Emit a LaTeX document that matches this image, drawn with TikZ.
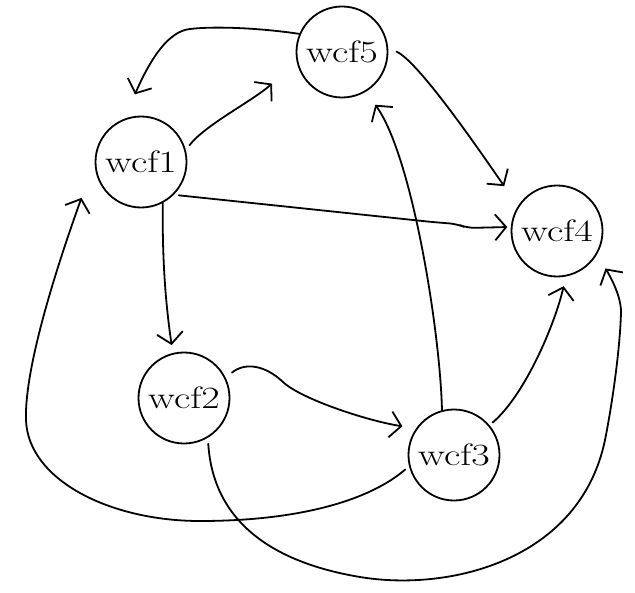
\documentclass[tikz,border=0pt]{standalone}
\usepackage{fontspec}
\usepackage{graphicx}
\usetikzlibrary{arrows.meta}
% labels are set a little wider than the font's natural width
\newcommand\statelabel[1]{\scalebox{1.3}[1]{#1}}
\begin{document}
\begin{tikzpicture}[x=1bp,y=-1bp,
  state/.style={circle,draw,line width=1.8bp,minimum size=91bp,inner sep=0pt,
                font=\fontsize{31}{37}\selectfont},
  edge/.style={line width=1.8bp,line cap=round,
               -{Straight Barb[length=11bp,width=26bp,line width=1.8bp]}}]
\useasboundingbox (0,0) rectangle (635,593);

% states
\node[state] (wcf1) at (141,162) {\statelabel{wcf1}};
\node[state] (wcf2) at (184,398) {\statelabel{wcf2}};
\node[state] (wcf3) at (454,455) {\statelabel{wcf3}};
\node[state] (wcf4) at (557,231) {\statelabel{wcf4}};
\node[state] (wcf5) at (342,52)  {\statelabel{wcf5}};

% wcf5 -> wcf1 (over the top)
\draw[edge,shorten >=26.5bp] (wcf5.157)
  .. controls (260,28) and (215,26) .. (190,29)
  .. controls (170,31) and (152,55) .. (wcf1.111);

% wcf1 -> wcf5
\draw[edge,shorten <=6bp,shorten >=33bp] (wcf1.15)
  .. controls (205,125) and (252.8,100.8) .. (wcf5.192);

% wcf5 -> wcf4
\draw[edge,shorten <=9bp,shorten >=24bp] (wcf5.5)
  .. controls (420,62) and (490,166) .. (wcf4.147);

% wcf1 -> wcf4
\draw[edge,shorten <=5bp,shorten >=3.5bp,rounded corners=8bp] (wcf1.-45)
  -- (290,207) -- (432,222) -- (457,224) -- (467,228) -- (wcf4.175);

% wcf1 -> wcf2
\draw[edge,shorten >=8bp] (wcf1.298)
  .. controls (162,270) and (167.2,314.3) .. (wcf2.104);

% wcf3 -> wcf1 (round the left side)
\draw[edge,shorten <=5bp,shorten >=39bp] (wcf3.194)
  .. controls (370,500) and (300,521) .. (200,521)
  .. controls (110,521) and (28,480) .. (26,420)
  .. controls (24,360) and (67.5,237) .. (wcf1.179);

% wcf2 -> wcf3
\draw[edge,shorten <=8bp,shorten >=13.7bp] (wcf2.26)
  .. controls (245,362) and (265,365) .. (283,382)
  .. controls (301,399) and (367.5,420.9) .. (wcf3.145);

% wcf2 -> wcf4 (under the bottom)
\draw[edge,shorten <=6bp,shorten >=16.5bp] (wcf2.301)
  .. controls (213,520) and (270,562) .. (360,577)
  .. controls (450,592) and (580,560) .. (605,440)
  .. controls (612,405) and (620,350) .. (621,312)
  .. controls (621,295) and (609.5,275.3) .. (wcf4.330);

% wcf3 -> wcf4
\draw[edge,shorten <=4bp,shorten >=9.9bp] (wcf3.40)
  .. controls (525,395) and (555,324) .. (wcf4.281);

% wcf3 -> wcf5
\draw[edge,shorten >=16bp] (wcf3.105)
  .. controls (440,330) and (412,155.8) .. (wcf5.301);
\end{tikzpicture}
\end{document}
